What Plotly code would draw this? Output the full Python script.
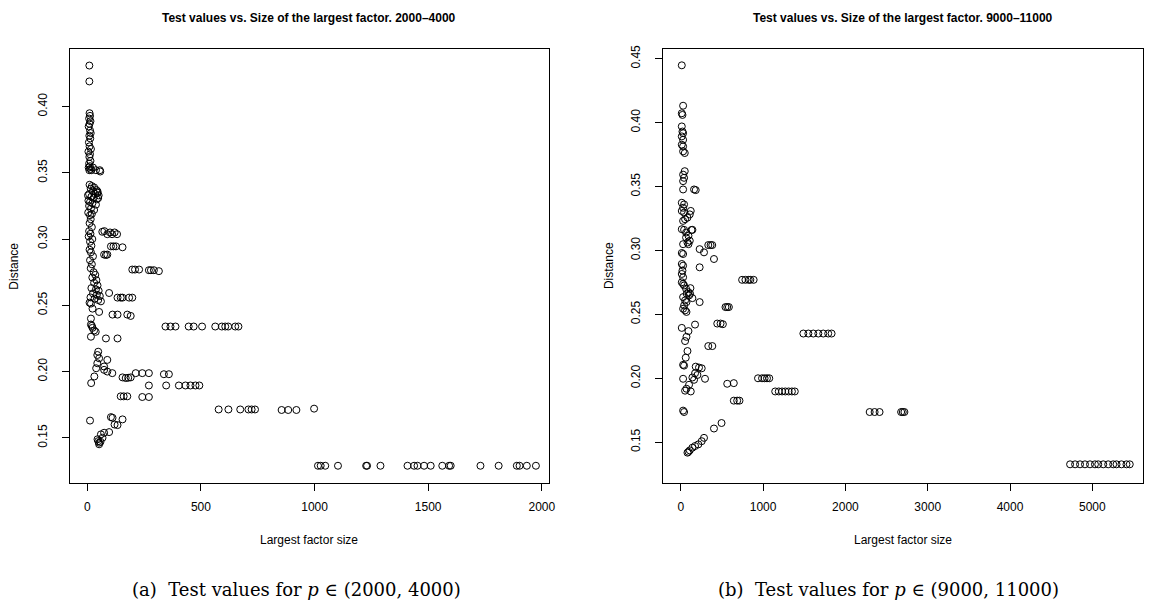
import plotly.graph_objects as go

# ---------------- data: panel (a) p in (2000, 4000) ----------------
left_x = [
    9, 9,
    10, 12, 8, 14, 10, 6, 12, 15, 9, 13, 7, 10, 16, 5, 12, 9, 14, 8, 11, 6, 14, 9, 18, 25,
    38, 57, 55,
    10, 20, 30, 15, 40, 25, 45, 8, 35, 50, 18, 28, 42, 5, 12, 22, 38, 8, 16, 30, 4, 20, 12, 45, 48, 3,
    15, 10, 20, 8, 14, 6, 22, 12, 18, 10, 16, 25, 12, 20, 15, 28, 35, 22, 40, 30, 45, 18, 38, 50,
    25, 42, 14, 55, 32, 48, 10, 60, 16, 23, 52, 16, 16, 23, 30, 37, 20,
    16, 82, 133,
    66, 88, 109, 131, 75, 100, 120,
    104, 126, 155, 115,
    74, 88, 82,
    198, 210, 228, 271, 280, 293, 315,
    96,
    133, 147, 155, 184, 198,
    111, 133, 176, 191,
    344, 366, 388, 446, 468, 505, 563, 592, 607, 620, 651, 665,
    44, 52, 48, 88, 44, 74, 39, 74, 88, 110, 31, 17,
    155, 169, 191, 180, 213, 242, 271, 337, 359,
    271, 347, 403, 432, 454, 476, 493,
    147, 160, 176, 242, 271,
    578, 621, 673, 709, 723, 738, 855, 884, 920, 998,
    12, 104, 111, 155, 133, 120,
    96, 74, 60, 67, 45, 52, 52, 58, 48,
    1015, 1027, 1047, 1103, 1227, 1231, 1290, 1409, 1438, 1453, 1482, 1511,
    1562, 1592, 1599, 1730, 1810, 1890, 1902, 1934, 1974,
]
left_y = [
    0.431, 0.419,
    0.395, 0.393, 0.391, 0.389, 0.387, 0.385, 0.382, 0.380, 0.378, 0.376, 0.373, 0.370, 0.368,
    0.366, 0.364, 0.362, 0.359, 0.357, 0.355, 0.354, 0.353, 0.352, 0.352, 0.354,
    0.352, 0.351, 0.352,
    0.341, 0.340, 0.339, 0.338, 0.337, 0.336, 0.335, 0.334, 0.334, 0.333, 0.332, 0.331, 0.330,
    0.329, 0.328, 0.327, 0.326, 0.325, 0.323, 0.322, 0.320, 0.319, 0.318, 0.336, 0.331, 0.333,
    0.315, 0.312, 0.309, 0.306, 0.304, 0.302, 0.300, 0.298, 0.295, 0.292, 0.290, 0.287, 0.284,
    0.281, 0.278, 0.275, 0.273, 0.271, 0.269, 0.267, 0.265, 0.263, 0.262, 0.261,
    0.259, 0.258, 0.256, 0.257, 0.255, 0.254, 0.252, 0.253, 0.2513, 0.2475, 0.245, 0.240,
    0.2355, 0.233, 0.231, 0.230, 0.2345,
    0.2263, 0.225, 0.225,
    0.3055, 0.3037, 0.3037, 0.3037, 0.306, 0.305, 0.305,
    0.2945, 0.2945, 0.2938, 0.2945,
    0.2883, 0.2883, 0.288,
    0.277, 0.277, 0.277, 0.2765, 0.2765, 0.2765, 0.2758,
    0.2593,
    0.2558, 0.2558, 0.2558, 0.2558, 0.2558,
    0.243, 0.243, 0.243, 0.242,
    0.234, 0.234, 0.234, 0.234, 0.234, 0.234, 0.234, 0.234, 0.234, 0.234, 0.234, 0.234,
    0.2125, 0.210, 0.215, 0.2088, 0.2063, 0.2038, 0.2025, 0.2013, 0.200, 0.1988, 0.1963, 0.1913,
    0.1956, 0.1951, 0.1956, 0.1953, 0.1988, 0.1988, 0.1988, 0.198, 0.198,
    0.1895, 0.1895, 0.1895, 0.1895, 0.1895, 0.1895, 0.1895,
    0.1813, 0.1813, 0.1813, 0.1808, 0.1808,
    0.1714, 0.1714, 0.1714, 0.1714, 0.1714, 0.1714, 0.171, 0.171, 0.171, 0.172,
    0.163, 0.1656, 0.1651, 0.1639, 0.1596, 0.160,
    0.1543, 0.1538, 0.1526, 0.150, 0.1489, 0.1463, 0.1451, 0.147, 0.1475,
    0.1289, 0.1289, 0.1289, 0.1289, 0.1289, 0.1289, 0.1289, 0.1289, 0.1289, 0.1289, 0.1289, 0.1289,
    0.1289, 0.1289, 0.1289, 0.1289, 0.1289, 0.1289, 0.1289, 0.1289, 0.1289,
]

# ---------------- data: panel (b) p in (9000, 11000) ----------------
right_x = [
    12, 28, 12, 20,
    12, 20, 28, 12, 28, 12, 28, 28, 48,
    48, 28, 40, 28, 28, 161, 181,
    12, 40, 28, 12, 40, 121, 109, 81, 52,
    28, 12, 40, 141, 64, 93, 64, 109, 81, 28, 93, 130,
    334, 362, 382, 229, 282, 12, 28, 403,
    12, 28, 20, 12, 28, 12, 28, 40, 229,
    745, 785, 825, 845, 885,
    117, 64, 93, 113, 72, 101, 141, 229, 28, 52, 69, 40, 28, 52, 69,
    543, 564, 584,
    443, 483, 511, 173,
    12, 93, 69, 52, 81, 60, 28, 40,
    334, 383,
    181, 221, 254, 173, 202, 141, 161, 100, 69, 52, 121,
    28, 294,
    938, 987, 1018, 1047, 1075,
    564, 644,
    1147, 1190, 1230, 1270, 1310, 1350, 1385,
    644, 685, 713,
    28, 40,
    403, 495,
    282, 254, 213, 173, 141, 109, 93, 81,
    2295, 2355, 2415, 2677, 2697, 2717,
    1489, 1550, 1610, 1671, 1731, 1791, 1832,
    4730, 4791, 4851, 4911, 4972, 5032, 5072, 5133, 5193, 5254, 5294, 5354, 5415, 5455,
]
right_y = [
    0.4448, 0.4132, 0.4073, 0.406,
    0.397, 0.393, 0.3917, 0.3892, 0.3865, 0.3827, 0.3814, 0.3775, 0.3762,
    0.362, 0.3593, 0.3568, 0.3542, 0.3477, 0.3477, 0.3472,
    0.3373, 0.336, 0.3334, 0.3309, 0.3296, 0.3309, 0.3282, 0.3257, 0.3244,
    0.3231, 0.3166, 0.3161, 0.3161, 0.314, 0.3115, 0.3101, 0.3076, 0.3062, 0.3049, 0.3049, 0.316,
    0.3042, 0.3042, 0.3042, 0.301, 0.2985, 0.298, 0.2972, 0.2933,
    0.2894, 0.2881, 0.2842, 0.2816, 0.279, 0.2751, 0.2738, 0.2726, 0.2868,
    0.277, 0.277, 0.277, 0.277, 0.277,
    0.2705, 0.270, 0.2674, 0.2661, 0.2661, 0.2648, 0.2627, 0.2596, 0.2635, 0.2609, 0.2596,
    0.257, 0.2544, 0.2531, 0.2519,
    0.2557, 0.2557, 0.2557,
    0.2428, 0.2428, 0.2423, 0.242,
    0.2394, 0.2369, 0.2324, 0.2291, 0.2213, 0.2161, 0.2105, 0.2099,
    0.2252, 0.2252,
    0.2091, 0.2084, 0.2078, 0.2039, 0.2026, 0.2006, 0.1988, 0.1949, 0.1918, 0.1903, 0.1897,
    0.1996, 0.1996,
    0.200, 0.200, 0.200, 0.200, 0.200,
    0.1957, 0.1962,
    0.1897, 0.1897, 0.1897, 0.1897, 0.1897, 0.1897, 0.1897,
    0.1825, 0.1825, 0.1825,
    0.1747, 0.1736,
    0.1607, 0.165,
    0.1534, 0.1508, 0.1483, 0.147, 0.1457, 0.1436, 0.1425, 0.1418,
    0.1736, 0.1736, 0.1736, 0.1736, 0.1736, 0.1736,
    0.235, 0.235, 0.235, 0.235, 0.235, 0.235, 0.235,
    0.1327, 0.1327, 0.1327, 0.1327, 0.1327, 0.1327, 0.1327, 0.1327, 0.1327, 0.1327, 0.1327,
    0.1327, 0.1327, 0.1327,
]

left_title = "Test values vs. Size of the largest factor. 2000\u20134000"
right_title = "Test values vs. Size of the largest factor. 9000\u201311000"
x_label = "Largest factor size"
y_label = "Distance"
left_caption = "(a)  Test values for <i>p</i> \u2208 (2000, 4000)"
right_caption = "(b)  Test values for <i>p</i> \u2208 (9000, 11000)"

left_xticks = [0, 500, 1000, 1500, 2000]
right_xticks = [0, 1000, 2000, 3000, 4000, 5000]
left_yticks = [0.15, 0.20, 0.25, 0.30, 0.35, 0.40]
right_yticks = [0.15, 0.20, 0.25, 0.30, 0.35, 0.40, 0.45]

W, H = 1151, 612
FONT = "Liberation Sans, Arial, Helvetica, sans-serif"

marker = dict(symbol="circle-open", size=7, color="black", line=dict(width=1, color="black"))

fig = go.Figure()
fig.add_trace(go.Scatter(x=left_x, y=left_y, mode="markers", marker=marker,
                         xaxis="x", yaxis="y", showlegend=False))
fig.add_trace(go.Scatter(x=right_x, y=right_y, mode="markers", marker=marker,
                         xaxis="x2", yaxis="y2", showlegend=False))

def px(v):
    return v / W

def py(v):
    return 1 - v / H

common = dict(showgrid=False, zeroline=False, showline=True, mirror=True,
              linecolor="black", linewidth=1, ticks="outside", ticklen=7,
              tickcolor="black", tickwidth=1,
              tickfont=dict(family=FONT, size=12, color="black"))

L0, L1 = 70, 552
R0, R1 = 667, 1150
T, B = 45, 482

fig.update_layout(
    width=W, height=H,
    margin=dict(l=0, r=0, t=0, b=0),
    paper_bgcolor="white", plot_bgcolor="white",
    xaxis=dict(domain=[px(L0), px(L1)], range=[-78, 2030], tickvals=left_xticks,
               ticklabelstandoff=6, anchor="y", **common),
    yaxis=dict(domain=[py(B), py(T)], range=[0.116, 0.4437], tickvals=left_yticks,
               tickformat=".2f", tickangle=-90, ticklabelstandoff=10, anchor="x", **common),
    xaxis2=dict(domain=[px(R0), px(R1)], range=[-217, 5616], tickvals=right_xticks,
                ticklabelstandoff=6, anchor="y2", **common),
    yaxis2=dict(domain=[py(B), py(T)], range=[0.1182, 0.4578], tickvals=right_yticks,
                tickformat=".2f", tickangle=-90, ticklabelstandoff=10, anchor="x2", **common),
)

ann = []
def add_text(text, x, y, size, family=FONT, angle=0, bold=False):
    if bold:
        text = "<b>" + text + "</b>"
    ann.append(dict(text=text, x=px(x), y=py(y), xref="paper", yref="paper",
                    xanchor="center", yanchor="middle", showarrow=False, textangle=angle,
                    font=dict(family=family, size=size, color="black")))

add_text(left_title, (L0 + L1) / 2, 14, 12, bold=True)
add_text(right_title, (R0 + R1) / 2, 14, 12, bold=True)
add_text(x_label, (L0 + L1) / 2, 540, 12)
add_text(x_label, (R0 + R1) / 2, 540, 12)
add_text(y_label, 14, (T + B) / 2, 12, angle=-90)
add_text(y_label, 612, (T + B) / 2, 12, angle=-90)
SERIF = "DejaVu Serif, Liberation Serif, serif"
add_text(left_caption, 298, 589, 18, family=SERIF)
add_text(right_caption, 894, 589, 18, family=SERIF)
fig.update_layout(annotations=ann)

fig.write_html("out.html")
